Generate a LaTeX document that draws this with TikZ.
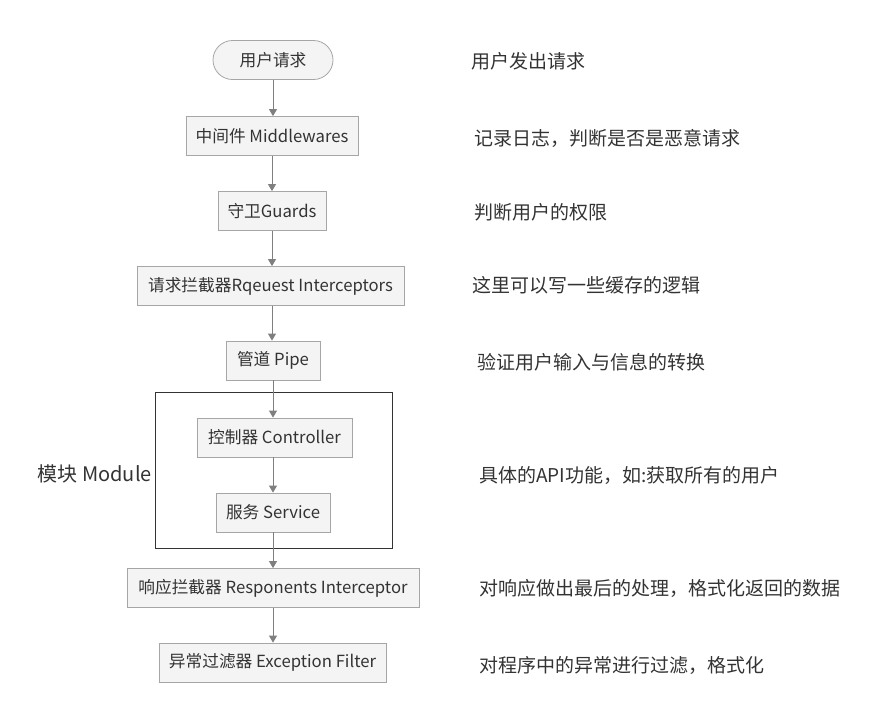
\documentclass[tikz,border=0pt]{standalone}
\usepackage{fontspec}
\setmainfont{Noto Sans CJK SC}
\usetikzlibrary{arrows.meta,shapes.misc}
\definecolor{boxfill}{HTML}{F4F4F4}
\definecolor{boxline}{HTML}{A6A6A6}
\definecolor{arrowc}{HTML}{7F7F7F}
\definecolor{txt}{HTML}{333333}
\tikzset{
  stepbox/.style={draw=boxline, fill=boxfill, line width=0.8pt, minimum height=39pt, inner xsep=0pt, text=txt, font=\fontsize{16.7}{19}\selectfont},
  startbox/.style={stepbox, rounded rectangle},
  note/.style={anchor=west, text=txt, font=\fontsize{19}{22}\selectfont, inner sep=0pt},
  flow/.style={draw=arrowc, line width=0.8pt, -{Triangle[length=7pt,width=8pt]}},
}
\begin{document}
\begin{tikzpicture}[x=1pt,y=-1pt]
\useasboundingbox (0,0) rectangle (878,724);
% module frame
\draw[draw=black!80, line width=0.8pt] (155,392) rectangle (392,548);
\node[anchor=east, inner sep=0pt, text=txt, font=\fontsize{20}{22}\selectfont] (modlabel) at (152,474) {模块 Module};

\node[startbox, minimum width=120pt] (req) at (273,60) {用户请求};
\node[stepbox, minimum width=172pt] (mw) at (272,136) {中间件 Middlewares};
\node[stepbox, minimum width=108pt] (guard) at (272,211) {守卫Guards};
\node[stepbox, minimum width=267pt] (rqi) at (270.5,286) {请求拦截器Rqeuest Interceptors};
\node[stepbox, minimum width=94pt] (pipe) at (273,360.5) {管道 Pipe};
\node[stepbox, minimum width=155pt] (ctrl) at (274.5,437.5) {控制器 Controller};
\node[stepbox, minimum width=114pt] (svc) at (273,512.5) {服务 Service};
\node[stepbox, minimum width=292pt] (rsi) at (273,588) {响应拦截器 Responents Interceptor};
\node[stepbox, minimum width=227pt] (exf) at (272.5,662.5) {异常过滤器 Exception Filter};

\draw[flow] (req.south -| 273,0) -- (mw.north -| 273,0);
\draw[flow] (mw.south -| 272,0) -- (guard.north -| 272,0);
\draw[flow] (guard.south -| 272,0) -- (rqi.north -| 272,0);
\draw[flow] (rqi.south -| 272,0) -- (pipe.north -| 272,0);
\draw[flow] (pipe.south -| 273,0) -- (ctrl.north -| 273,0);
\draw[flow] (ctrl.south -| 273,0) -- (svc.north -| 273,0);
\draw[flow] (svc.south -| 273,0) -- (rsi.north -| 273,0);
\draw[flow] (rsi.south -| 273,0) -- (exf.north -| 273,0);

\node[note] (n1) at (471,61) {用户发出请求};
\node[note] (n2) at (474,138) {记录日志，判断是否是恶意请求};
\node[note] (n3) at (474,212) {判断用户的权限};
\node[note] (n4) at (472,285) {这里可以写一些缓存的逻辑};
\node[note] (n5) at (477,362) {验证用户输入与信息的转换};
\node[note] (n6) at (479,475) {具体的API功能，如:获取所有的用户};
\node[note] (n7) at (479,588) {对响应做出最后的处理，格式化返回的数据};
\node[note] (n8) at (479,665) {对程序中的异常进行过滤，格式化};
\end{tikzpicture}
\end{document}
